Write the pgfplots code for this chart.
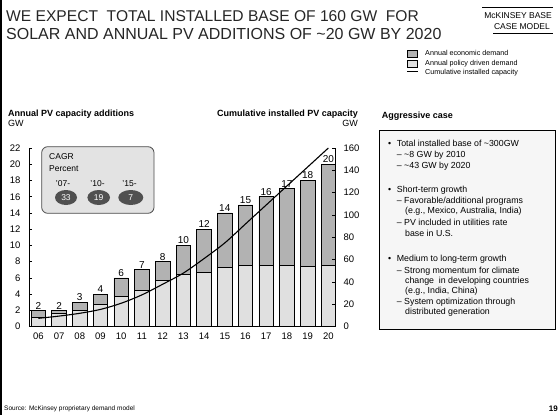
\documentclass[border=0pt]{standalone}
\usepackage{pgfplots}
\pgfplotsset{compat=1.18}
\usepackage{pgfplotstable}
\usepackage{fontspec}
\setmainfont{Liberation Sans}

\definecolor{econfill}{HTML}{B2B2B2}
\definecolor{polfill}{HTML}{E0E0E0}
\definecolor{ovalfill}{HTML}{505050}

% i = position on the x axis, policy = policy driven part,
% total = annual additions (GW), cum = cumulative installed base (GW)
\pgfplotstableread{
i  yr policy total cum
0  06 1.1  2   7.5
1  07 1.7  2   9.5
2  08 2.0  3   12
3  09 2.7  4   15.5
4  10 3.7  6   21
5  11 4.5  7   28.5
6  12 5.7  8   38
7  13 6.4  10  48
8  14 6.7  12  61
9  15 7.3  14  75
10 16 7.5  15  92
11 17 7.5  16  109
12 18 7.5  17  126
13 19 7.4  18  143
14 20 7.5  20  160
}\pvdata

\newcommand{\fs}[1]{\fontsize{#1bp}{#1bp}\selectfont}

\pgfplotsset{
  panel/.style={
    at={(29bp,-326.7bp)}, anchor=south west,
    scale only axis, width=306bp, height=178.7bp,
    xmin=-0.45, xmax=14.32, clip=false,
    axis line style={line width=0.8bp},
    tick align=inside, major tick length=3bp,
    tick style={line width=0.8bp, black},
    /pgf/number format/assume math mode=true,
    tick label style={font=\fs{9.5}},
  },
}

\begin{document}
\begin{tikzpicture}
\path (0bp,0bp) rectangle (560bp,-415bp);

% annual additions (left axis)
\begin{axis}[
  panel, ymin=0, ymax=22,
  axis y line*=left, axis x line*=bottom,
  ytick={0,2,...,22},
  xtick={0,...,14},
  xticklabels={06,07,08,09,10,11,12,13,14,15,16,17,18,19,20},
  x tick style={draw=none},
  yticklabel style={xshift=-5bp},
  xticklabel style={yshift=-3bp},
  ybar stacked, bar width=0.7,
]
\addplot[fill=polfill, draw=black, line width=0.7bp]
  table[x=i, y=policy]{\pvdata};
\addplot[fill=econfill, draw=black, line width=0.7bp]
  table[x=i, y expr=\thisrow{total}-\thisrow{policy}]{\pvdata};
\end{axis}

% totals written above the bars
\begin{axis}[panel, ymin=0, ymax=22, hide axis]
\addplot[draw=none, no markers, nodes near coords, point meta=y,
  nodes near coords style={font=\fs{10}, anchor=south, inner sep=1.2bp, black}]
  table[x=i, y=total]{\pvdata};
\end{axis}

% cumulative installed capacity (right axis)
\begin{axis}[
  panel, ymin=0, ymax=160,
  axis y line*=right, axis x line=none,
  ytick={0,20,...,160},
  yticklabel style={xshift=5bp},
]
\addplot[black, line width=1.1bp, smooth, no markers]
  table[x=i, y=cum]{\pvdata};
\end{axis}

\begin{scope}[x=1bp, y=-1bp]
% page edge
\fill[black] (0,0) rectangle (2.5,415);

% title
\node[anchor=base west, inner sep=0, font=\fs{15.6}, text=black!85] at (6,21)
  {WE EXPECT\ \ TOTAL INSTALLED BASE OF 160 GW\ \ FOR};
\node[anchor=base west, inner sep=0, font=\fs{16}, text=black!85] at (6,39.5)
  {SOLAR AND ANNUAL PV ADDITIONS OF {\char"7E}20 GW BY 2020};

% model tag
\draw[line width=0.7bp] (482,7) -- (553,7);
\node[anchor=base east, inner sep=0, font=\fs{8.5}] at (552,18.2) {McKINSEY BASE};
\node[anchor=base east, inner sep=0, font=\fs{8.5}] at (550,29.8) {CASE MODEL};
\draw[line width=0.7bp] (493,33.5) -- (553,33.5);

% legend
\draw[fill=econfill, line width=0.5bp] (407,50) rectangle (417,57);
\draw[fill=polfill, line width=0.5bp] (407,60) rectangle (417,67);
\draw[line width=0.9bp] (407,71.7) -- (418,71.7);
\node[anchor=base west, inner sep=0, font=\fs{7.2}] at (425,55.8) {Annual economic demand};
\node[anchor=base west, inner sep=0, font=\fs{7.2}] at (425,65.8) {Annual policy driven demand};
\node[anchor=base west, inner sep=0, font=\fs{7.2}] at (425,74.2) {Cumulative installed capacity};

% axis headers
\node[anchor=base west, inner sep=0, font=\bfseries\fs{9}] at (8,116.5) {Annual PV capacity additions};
\node[anchor=base west, inner sep=0, font=\fs{9}] at (8,126.5) {GW};
\node[anchor=base east, inner sep=0, font=\bfseries\fs{9}] at (358,116.5) {Cumulative installed PV capacity};
\node[anchor=base east, inner sep=0, font=\fs{9}] at (358,126.5) {GW};

% CAGR call-out
\draw[fill=gray!22, draw=black!70, line width=0.8bp, rounded corners=6bp]
  (41.7,146.7) rectangle (154,213.3);
\node[anchor=base west, inner sep=0, font=\fs{8.5}] at (49,159.8) {CAGR};
\node[anchor=base west, inner sep=0, font=\fs{8.5}] at (49,171.4) {Percent};
\node[anchor=base, inner sep=0, font=\fs{8.5}] at (63,186.4) {'07-};
\node[anchor=base, inner sep=0, font=\fs{8.5}] at (97.5,186.4) {'10-};
\node[anchor=base, inner sep=0, font=\fs{8.5}] at (129.5,186.4) {'15-};
\fill[ovalfill] (66,197.5) ellipse [x radius=11, y radius=7.5];
\fill[ovalfill] (98.7,197.5) ellipse [x radius=11.3, y radius=7.5];
\fill[ovalfill] (130.8,197.5) ellipse [x radius=12.5, y radius=7.5];
\node[font=\fs{8.5}, text=white] at (66,197.5) {33};
\node[font=\fs{8.5}, text=white] at (98.7,197.5) {19};
\node[font=\fs{8.5}, text=white] at (130.8,197.5) {7};

% aggressive case panel
\node[anchor=base west, inner sep=0, font=\bfseries\fs{9}] at (381.7,118.3) {Aggressive case};
\draw[fill=gray!7, line width=0.9bp] (379,130) rectangle (555,329.3);
\begin{scope}[every node/.style={anchor=base west, inner sep=0, font=\fs{8.8}}]
\node at (388,146.5) {\textbullet};
\node at (396.7,146.5) {Total installed base of {\char"7E}300GW};
\node at (396.7,157.2) {\textendash\ {\char"7E}8 GW by 2010};
\node at (396.7,168.2) {\textendash\ {\char"7E}43 GW by 2020};
\node at (388,192.5) {\textbullet};
\node at (396.7,192.5) {Short-term growth};
\node at (396.7,203.2) {\textendash\ Favorable/additional programs};
\node at (405,213.2) {(e.g., Mexico, Australia, India)};
\node at (396.7,225.9) {\textendash\ PV included in utilities rate};
\node at (405,236.5) {base in U.S.};
\node at (388,261.5) {\textbullet};
\node at (396.7,261.5) {Medium to long-term growth};
\node at (396.7,273.2) {\textendash\ Strong momentum for climate};
\node at (405,283.2) {change\ \ in developing countries};
\node at (405,293.9) {(e.g., India, China)};
\node at (396.7,304.9) {\textendash\ System optimization through};
\node at (405,314.9) {distributed generation};
\end{scope}

% footer
\node[anchor=base west, inner sep=0, font=\fs{6.5}] at (4,410.5) {Source: McKinsey proprietary demand model};
\node[anchor=base east, inner sep=0, font=\bfseries\fs{8}] at (558,411) {19};
\end{scope}
\end{tikzpicture}
\end{document}
